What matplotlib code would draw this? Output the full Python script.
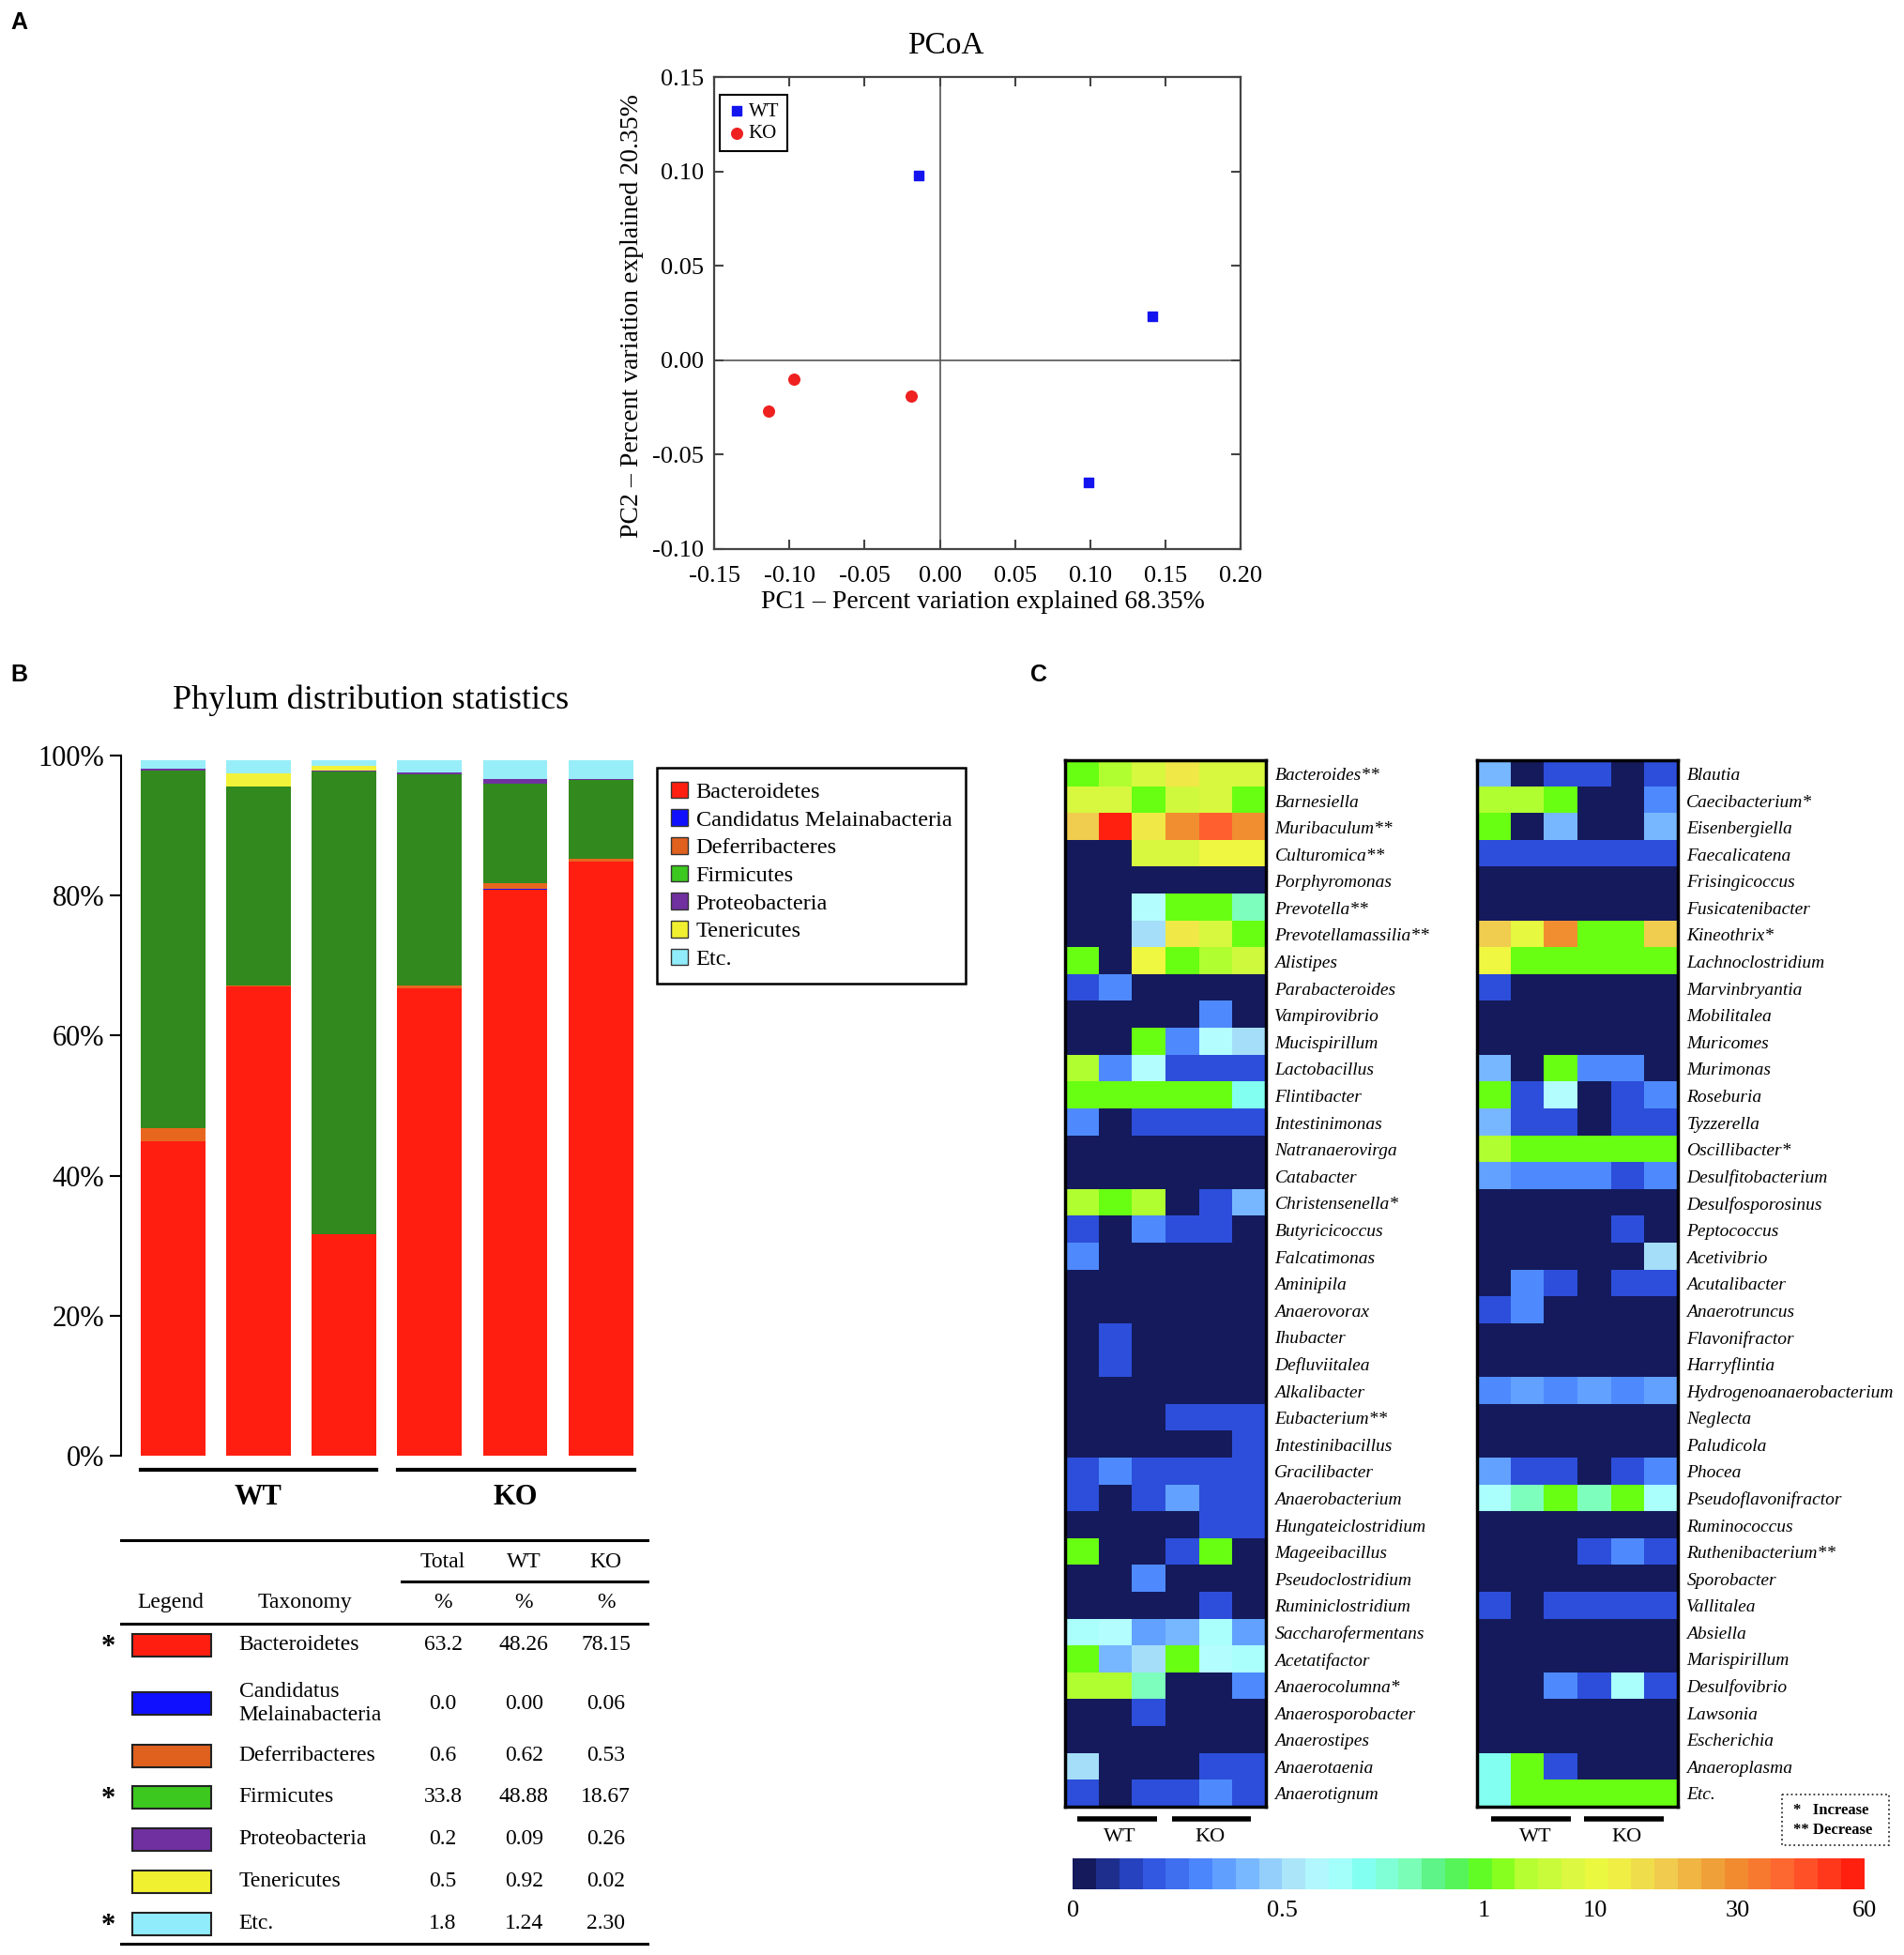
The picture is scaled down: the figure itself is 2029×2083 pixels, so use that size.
import matplotlib.pyplot as plt
import matplotlib.cm as cm
import numpy as np
from matplotlib.colors import LinearSegmentedColormap, FuncNorm
from matplotlib.patches import Patch, Rectangle

plt.rcParams['font.family'] = ['Liberation Serif', 'DejaVu Serif']

# ---------------- data ----------------
# A: PCoA
wt_pc1 = [-0.014, 0.141, 0.099]
wt_pc2 = [0.098, 0.023, -0.065]
ko_pc1 = [-0.114, -0.097, -0.019]
ko_pc2 = [-0.027, -0.010, -0.019]

# B: phylum stacked bars (6 samples: WT x3, KO x3)
phyla = ['Bacteroidetes', 'Candidatus Melainabacteria', 'Deferribacteres',
         'Firmicutes', 'Proteobacteria', 'Tenericutes', 'Etc.']
bacteroidetes = [44.9, 67.0, 31.7, 66.7, 80.8, 84.8]
candidatus = [0.0, 0.0, 0.0, 0.0, 0.2, 0.0]
deferribacteres = [1.9, 0.1, 0.0, 0.5, 0.8, 0.4]
firmicutes = [51.1, 28.5, 66.0, 30.1, 14.2, 11.3]
proteobacteria = [0.2, 0.0, 0.1, 0.2, 0.6, 0.1]
tenericutes = [0.0, 1.8, 0.7, 0.0, 0.0, 0.0]
etc_phyla = [1.2, 1.9, 0.8, 1.8, 2.7, 2.7]
bar_series = [bacteroidetes, candidatus, deferribacteres, firmicutes,
              proteobacteria, tenericutes, etc_phyla]

# B: table
table_names = ['Bacteroidetes', 'Candidatus\nMelainabacteria', 'Deferribacteres',
               'Firmicutes', 'Proteobacteria', 'Tenericutes', 'Etc.']
table_total = ['63.2', '0.0', '0.6', '33.8', '0.2', '0.5', '1.8']
table_wt = ['48.26', '0.00', '0.62', '48.88', '0.09', '0.92', '1.24']
table_ko = ['78.15', '0.06', '0.53', '18.67', '0.26', '0.02', '2.30']
table_star = ['*', '', '', '*', '', '', '*']

# C: genus heatmaps (relative abundance, %)
left_genera = ['Bacteroides**', 'Barnesiella', 'Muribaculum**', 'Culturomica**',
               'Porphyromonas', 'Prevotella**', 'Prevotellamassilia**', 'Alistipes',
               'Parabacteroides', 'Vampirovibrio', 'Mucispirillum', 'Lactobacillus',
               'Flintibacter', 'Intestinimonas', 'Natranaerovirga', 'Catabacter',
               'Christensenella*', 'Butyricicoccus', 'Falcatimonas', 'Aminipila',
               'Anaerovorax', 'Ihubacter', 'Defluviitalea', 'Alkalibacter',
               'Eubacterium**', 'Intestinibacillus', 'Gracilibacter', 'Anaerobacterium',
               'Hungateiclostridium', 'Mageeibacillus', 'Pseudoclostridium',
               'Ruminiclostridium', 'Saccharofermentans', 'Acetatifactor',
               'Anaerocolumna*', 'Anaerosporobacter', 'Anaerostipes', 'Anaerotaenia',
               'Anaerotignum']
left_vals = [
    [1.5, 4, 8, 15, 8, 8],
    [8, 8, 1.5, 7, 8, 1.5],
    [20, 60, 15, 30, 45, 30],
    [0, 0, 8, 8, 12, 12],
    [0, 0, 0, 0, 0, 0],
    [0, 0, 0.6, 1.5, 1.5, 0.8],
    [0, 0, 0.5, 15, 8, 1.5],
    [1.5, 0, 12, 1.5, 4, 7],
    [0.15, 0.3, 0, 0, 0, 0],
    [0, 0, 0, 0, 0.3, 0],
    [0, 0, 1.5, 0.3, 0.6, 0.5],
    [4, 0.3, 0.6, 0.15, 0.15, 0.15],
    [1.5, 1.5, 1.5, 1.5, 1.5, 0.7],
    [0.3, 0, 0.15, 0.15, 0.15, 0.15],
    [0, 0, 0, 0, 0, 0],
    [0, 0, 0, 0, 0, 0],
    [4, 1.5, 4, 0, 0.15, 0.4],
    [0.15, 0, 0.3, 0.15, 0.15, 0],
    [0.3, 0, 0, 0, 0, 0],
    [0, 0, 0, 0, 0, 0],
    [0, 0, 0, 0, 0, 0],
    [0, 0.15, 0, 0, 0, 0],
    [0, 0.15, 0, 0, 0, 0],
    [0, 0, 0, 0, 0, 0],
    [0, 0, 0, 0.15, 0.15, 0.15],
    [0, 0, 0, 0, 0, 0.15],
    [0.15, 0.3, 0.15, 0.15, 0.15, 0.15],
    [0.15, 0, 0.15, 0.35, 0.15, 0.15],
    [0, 0, 0, 0, 0.15, 0.15],
    [1.5, 0, 0, 0.15, 1.5, 0],
    [0, 0, 0.3, 0, 0, 0],
    [0, 0, 0, 0, 0.15, 0],
    [0.62, 0.6, 0.35, 0.4, 0.62, 0.35],
    [1.5, 0.4, 0.5, 1.5, 0.6, 0.62],
    [4, 4, 0.8, 0, 0, 0.3],
    [0, 0, 0.15, 0, 0, 0],
    [0, 0, 0, 0, 0, 0],
    [0.5, 0, 0, 0, 0.15, 0.15],
    [0.15, 0, 0.15, 0.15, 0.3, 0.15],
]
right_genera = ['Blautia', 'Caecibacterium*', 'Eisenbergiella', 'Faecalicatena',
                'Frisingicoccus', 'Fusicatenibacter', 'Kineothrix*', 'Lachnoclostridium',
                'Marvinbryantia', 'Mobilitalea', 'Muricomes', 'Murimonas', 'Roseburia',
                'Tyzzerella', 'Oscillibacter*', 'Desulfitobacterium', 'Desulfosporosinus',
                'Peptococcus', 'Acetivibrio', 'Acutalibacter', 'Anaerotruncus',
                'Flavonifractor', 'Harryflintia', 'Hydrogenoanaerobacterium', 'Neglecta',
                'Paludicola', 'Phocea', 'Pseudoflavonifractor', 'Ruminococcus',
                'Ruthenibacterium**', 'Sporobacter', 'Vallitalea', 'Absiella',
                'Marispirillum', 'Desulfovibrio', 'Lawsonia', 'Escherichia',
                'Anaeroplasma', 'Etc.']
right_vals = [
    [0.4, 0, 0.15, 0.15, 0, 0.15],
    [4, 4, 1.5, 0, 0, 0.3],
    [1.5, 0, 0.4, 0, 0, 0.4],
    [0.15, 0.15, 0.15, 0.15, 0.15, 0.15],
    [0, 0, 0, 0, 0, 0],
    [0, 0, 0, 0, 0, 0],
    [20, 10, 30, 1.5, 1.5, 20],
    [12, 1.5, 1.5, 1.5, 1.5, 1.5],
    [0.15, 0, 0, 0, 0, 0],
    [0, 0, 0, 0, 0, 0],
    [0, 0, 0, 0, 0, 0],
    [0.4, 0, 1.5, 0.3, 0.3, 0],
    [1.5, 0.15, 0.6, 0, 0.15, 0.3],
    [0.4, 0.15, 0.15, 0, 0.15, 0.15],
    [4, 1.5, 1.5, 1.5, 1.5, 1.5],
    [0.35, 0.3, 0.3, 0.3, 0.15, 0.3],
    [0, 0, 0, 0, 0, 0],
    [0, 0, 0, 0, 0.15, 0],
    [0, 0, 0, 0, 0, 0.5],
    [0, 0.3, 0.15, 0, 0.15, 0.15],
    [0.15, 0.3, 0, 0, 0, 0],
    [0, 0, 0, 0, 0, 0],
    [0, 0, 0, 0, 0, 0],
    [0.3, 0.35, 0.3, 0.35, 0.3, 0.35],
    [0, 0, 0, 0, 0, 0],
    [0, 0, 0, 0, 0, 0],
    [0.35, 0.15, 0.15, 0, 0.15, 0.3],
    [0.62, 0.8, 1.5, 0.8, 1.5, 0.62],
    [0, 0, 0, 0, 0, 0],
    [0, 0, 0, 0.15, 0.3, 0.15],
    [0, 0, 0, 0, 0, 0],
    [0.15, 0, 0.15, 0.15, 0.15, 0.15],
    [0, 0, 0, 0, 0, 0],
    [0, 0, 0, 0, 0, 0],
    [0, 0, 0.3, 0.15, 0.62, 0.15],
    [0, 0, 0, 0, 0, 0],
    [0, 0, 0, 0, 0, 0],
    [0.7, 1.5, 0.15, 0, 0, 0],
    [0.7, 1.5, 1.5, 1.5, 1.5, 1.5],
]
cb_ticks = [0, 0.5, 1, 10, 30, 60]
cb_tick_labels = ['0', '0.5', '1', '10', '30', '60']

# ---------------- styles ----------------
bar_colors = ['#ff1e10', '#1414f0', '#e8671f', '#32891e', '#7032a0', '#f2f23a', '#98eef8']
swatch_colors = ['#ff1e10', '#1010ff', '#e0601e', '#3cc81e', '#7030a0', '#f0f030', '#90ecfa']
cb_pos = [0, 0.265, 0.52, 0.66, 0.84, 1.0]
cmap_nodes = [(0.0, '#141a5c'), (0.0795, '#2d4fdc'), (0.159, '#4f8cff'), (0.212, '#78b8ff'),
              (0.265, '#a8e0f8'), (0.316, '#b4ffff'), (0.367, '#80fff0'), (0.418, '#80ffc0'),
              (0.47, '#50f070'), (0.528, '#66ff11'), (0.567, '#b0ff30'), (0.629, '#d8f840'),
              (0.678, '#f0f840'), (0.75, '#f0d050'), (0.84, '#f09030'), (0.92, '#ff6030'),
              (1.0, '#ff2010')]
cmap = LinearSegmentedColormap.from_list('abund', cmap_nodes)
norm = FuncNorm((lambda v: np.interp(v, cb_ticks, cb_pos),
                 lambda p: np.interp(p, cb_pos, cb_ticks)), vmin=0, vmax=60)

W, H = 1530, 1571  # layout grid of the reference


def box(x0, y0, x1, y1):
    return [x0 / W, 1 - y1 / H, (x1 - x0) / W, (y1 - y0) / H]


fig = plt.figure(figsize=(20.29, 20.83), dpi=100)

# ---------------- A: PCoA ----------------
ax = fig.add_axes(box(574, 62, 997, 441))
ax.axhline(0, color='#555555', lw=1.2, zorder=1)
ax.axvline(0, color='#555555', lw=1.2, zorder=1)
ax.scatter(wt_pc1, wt_pc2, marker='s', s=48, color='#1414ee', label='WT', zorder=3)
ax.scatter(ko_pc1, ko_pc2, marker='o', s=70, color='#ee2020', label='KO', zorder=3)
ax.set_xlim(-0.15, 0.20)
ax.set_ylim(-0.10, 0.15)
ax.set_xticks([-0.15, -0.10, -0.05, 0.0, 0.05, 0.10, 0.15, 0.20])
ax.set_yticks([-0.10, -0.05, 0.0, 0.05, 0.10, 0.15])
ax.xaxis.set_major_formatter(lambda v, p: f'{v:.2f}')
ax.yaxis.set_major_formatter(lambda v, p: f'{v:.2f}')
ax.tick_params(direction='in', top=True, right=True, length=7, width=1.5,
               labelsize=19, color='#444444')
ax.tick_params(axis='x', pad=13)
ax.tick_params(axis='y', pad=8)
for s in ax.spines.values():
    s.set_color('#444444')
    s.set_linewidth(1.6)
ax.legend(loc='upper left', bbox_to_anchor=(578 / W, 1 - 76 / H), bbox_transform=fig.transFigure,
          borderaxespad=0, fontsize=15, handletextpad=0.1, handlelength=1.0, labelspacing=0.2,
          fancybox=False, edgecolor='black', framealpha=1, borderpad=0.4)
ax.get_legend().get_frame().set_linewidth(1.5)
fig.text(760 / W, 1 - 37 / H, 'PCoA', ha='center', va='center', fontsize=24)
fig.text(790 / W, 1 - 484 / H, 'PC1 \u2013 Percent variation explained 68.35%',
         ha='center', va='center', fontsize=20)
fig.text(508 / W, 1 - 254 / H, 'PC2 \u2013 Percent variation explained 20.35%',
         ha='center', va='center', fontsize=20, rotation=90)

# ---------------- B: stacked bars ----------------
axb = fig.add_axes(box(97, 607, 515, 1170))
xs = np.arange(6)
bottom = np.zeros(6)
for vals, col in zip(bar_series, bar_colors):
    axb.bar(xs, vals, 0.755, bottom=bottom, color=col, linewidth=0)
    bottom += np.array(vals)
axb.set_xlim(-0.61, 5.47)
axb.set_ylim(0, 100)
axb.set_yticks([0, 20, 40, 60, 80, 100])
axb.set_yticklabels(['0%', '20%', '40%', '60%', '80%', '100%'])
axb.set_xticks([])
for k in ['top', 'right', 'bottom']:
    axb.spines[k].set_visible(False)
axb.spines['left'].set_linewidth(1.5)
axb.tick_params(axis='y', length=9, width=1.5, labelsize=22)
axb.plot([-0.378, 2.38], [-1.95, -1.95], color='black', lw=3, clip_on=False)
axb.plot([2.63, 5.39], [-1.95, -1.95], color='black', lw=3, clip_on=False)
axb.text(1, -5.9, 'WT', ha='center', va='center', fontsize=22, fontweight='bold')
axb.text(4, -5.9, 'KO', ha='center', va='center', fontsize=22, fontweight='bold')
fig.text(298 / W, 1 - 563 / H, 'Phylum distribution statistics', ha='center', va='center',
         fontsize=26)
handles = [Patch(facecolor=c, edgecolor='#333333', linewidth=1) for c in swatch_colors]
leg = fig.legend(handles, phyla, loc='upper left', bbox_to_anchor=(528 / W, 1 - 617 / H),
                 borderaxespad=0, fontsize=17.5, handlelength=0.75, handleheight=0.75,
                 handletextpad=0.35, labelspacing=0.3, fancybox=False, edgecolor='black',
                 framealpha=1, borderpad=0.6)
leg.get_frame().set_linewidth(1.8)

# ---------------- C: heatmaps ----------------
for (x0, x1), genera, vals in [((856, 1017), left_genera, left_vals),
                               ((1187, 1348), right_genera, right_vals)]:
    axh = fig.add_axes(box(x0, 611, x1, 1452))
    axh.imshow(np.array(vals, dtype=float), cmap=cmap, norm=norm, aspect='auto',
               interpolation='nearest')
    axh.set_xticks([])
    axh.set_yticks(np.arange(len(genera)))
    axh.set_yticklabels(genera, style='italic', fontsize=14)
    axh.yaxis.tick_right()
    axh.tick_params(axis='y', length=0, pad=7)
    for s in axh.spines.values():
        s.set_linewidth(2.5)

cax = fig.add_axes(box(862, 1493, 1498, 1518))
sm = cm.ScalarMappable(norm=norm, cmap=cmap.resampled(34))
cb = fig.colorbar(sm, cax=cax, orientation='horizontal', ticks=cb_ticks)
cb.outline.set_visible(False)
cax.set_xticklabels(cb_tick_labels)
cax.tick_params(length=0, labelsize=19, pad=9)

# ---------------- overlay: letters, table, annotations ----------------
ov = fig.add_axes([0, 0, 1, 1])
ov.set_xlim(0, W)
ov.set_ylim(H, 0)
ov.axis('off')
ov.patch.set_alpha(0)

for lab, lx, ly in [('A', 15, 18), ('B', 15, 542), ('C', 835, 542)]:
    ov.text(lx, ly, lab, ha='center', va='center', fontsize=18, fontweight='bold',
            family='Liberation Sans')

# heatmap group bars
for (a, b), (c, d), (tw, tk) in [((866, 930), (942, 1005), (900, 972)),
                                  ((1198, 1262), (1273, 1337), (1234, 1307))]:
    ov.plot([a, b], [1462, 1462], color='black', lw=4, solid_capstyle='butt')
    ov.plot([c, d], [1462, 1462], color='black', lw=4, solid_capstyle='butt')
    ov.text(tw, 1476, 'WT', ha='center', va='center', fontsize=16)
    ov.text(tk, 1476, 'KO', ha='center', va='center', fontsize=16)

ov.add_patch(Rectangle((1432, 1442), 86, 41, fill=False, linestyle=':', lw=1.3, color='#333333'))
ov.text(1441, 1455, '*   Increase', ha='left', va='center', fontsize=12, fontweight='bold')
ov.text(1441, 1471, '** Decrease', ha='left', va='center', fontsize=12, fontweight='bold')

# table
ov.plot([97, 520], [1238, 1238], color='black', lw=2.2)
ov.plot([323, 520], [1271, 1271], color='black', lw=2.2)
ov.plot([97, 520], [1305, 1305], color='black', lw=2.2)
ov.plot([97, 520], [1562, 1562], color='black', lw=2.2)
col_x = [356, 421, 487]
for cx, head in zip(col_x, ['Total', 'WT', 'KO']):
    ov.text(cx, 1255, head, ha='center', va='center', fontsize=17)
    ov.text(cx, 1288, '%', ha='center', va='center', fontsize=17)
ov.text(137, 1288, 'Legend', ha='center', va='center', fontsize=17)
ov.text(245, 1288, 'Taxonomy', ha='center', va='center', fontsize=17)
row_y = [1322, 1369, 1411, 1444, 1478, 1512, 1546]
for ry, name, c, star, tot, wt, ko in zip(row_y, table_names, swatch_colors, table_star,
                                          table_total, table_wt, table_ko):
    ov.add_patch(Rectangle((106, ry - 9), 64, 18, facecolor=c, edgecolor='#222222', lw=1.5))
    ov.text(192, ry, name, ha='left', va='center', fontsize=17, linespacing=1.25)
    for cx, v in zip(col_x, [tot, wt, ko]):
        ov.text(cx, ry, v, ha='center', va='center', fontsize=17)
    if star:
        ov.text(87, ry + 2, star, ha='center', va='center', fontsize=22, fontweight='bold')

fig.savefig('out.png', dpi=100)
